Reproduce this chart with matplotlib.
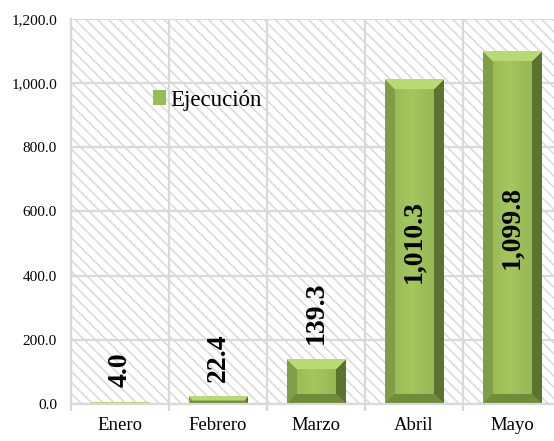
import numpy as np
import matplotlib
matplotlib.use("Agg")
import matplotlib.pyplot as plt
from matplotlib.patches import Rectangle
from matplotlib.ticker import FuncFormatter, MultipleLocator, FixedLocator

# --- data ---
months = ["Enero", "Febrero", "Marzo", "Abril", "Mayo"]
ejecucion = [4.0, 22.4, 139.3, 1010.3, 1099.8]
series_name = "Ejecución"

plt.rcParams["font.family"] = ["Liberation Serif", "DejaVu Serif"]
plt.rcParams["hatch.linewidth"] = 1.1
plt.rcParams["hatch.color"] = "#dedede"

W, H, DPI = 554, 441, 100
fig = plt.figure(figsize=(W / DPI, H / DPI), dpi=DPI)
ax = fig.add_axes([71 / W, 37 / H, 490 / W, 385 / H])

grid_c = "#d9d9d9"
x = np.arange(len(months))
ax.set_xlim(-0.5, len(months) - 0.5)
ax.set_ylim(0, 1200)

# hatched background
ax.add_patch(Rectangle((0, 0), 1, 1, transform=ax.transAxes, facecolor="white",
                       hatch="\\\\\\", edgecolor=grid_c, linewidth=0, zorder=0))
ax.set_axisbelow(True)

ax.yaxis.set_major_locator(MultipleLocator(200))
ax.yaxis.set_major_formatter(FuncFormatter(lambda v, p: f"{v:,.1f}"))
ax.xaxis.set_major_locator(FixedLocator(x))
ax.set_xticks(np.append(x - 0.5, x[-1] + 0.5), minor=True)
ax.set_xticklabels(months)

ax.grid(axis="y", color=grid_c, linewidth=1.6, zorder=1)
ax.grid(axis="x", which="minor", color=grid_c, linewidth=1.6, zorder=1)
for s in ["top", "right"]:
    ax.spines[s].set_visible(False)
for s in ["left", "bottom"]:
    ax.spines[s].set_color(grid_c)
    ax.spines[s].set_linewidth(1.6)

ax.tick_params(axis="x", which="major", length=0, labelsize=13.5, pad=9)
ax.tick_params(axis="x", which="minor", length=5, color=grid_c, width=1.6)
ax.tick_params(axis="y", length=0, labelsize=11, pad=10)

bars = ax.bar(x, ejecucion, width=0.6, color="#9bbb59", zorder=2, label=series_name)
fig.canvas.draw()

# bevelled look for each bar
center = np.array([0.64, 0.78, 0.37])
left_c = np.array([0.50, 0.62, 0.28])
right_c = np.array([0.36, 0.45, 0.19])
top_c = np.array([0.72, 0.86, 0.45])
bot_c = np.array([0.44, 0.55, 0.23])
bevel = 10
for b in bars:
    bb = b.get_window_extent()
    w_px = max(int(round(bb.width)), 1)
    h_px = max(int(round(bb.height)), 1)
    jj, ii = np.meshgrid(np.arange(w_px), np.arange(h_px))
    d = np.stack([ii, h_px - 1 - ii, jj, w_px - 1 - jj])
    nearest = d.argmin(axis=0)
    dmin = d.min(axis=0)
    img = np.empty((h_px, w_px, 3))
    img[:] = center
    t = jj / max(w_px - 1, 1)
    shade = 1 - 0.10 * np.abs(t - 0.45) * 2
    img *= shade[..., None]
    for k, c in enumerate([top_c, bot_c, left_c, right_c]):
        m = (nearest == k) & (dmin < bevel)
        img[m] = c
    ax.imshow(img, extent=(b.get_x(), b.get_x() + b.get_width(), 0, b.get_height()),
              aspect="auto", interpolation="bilinear", zorder=2.5, clip_path=b)
ax.set_xlim(-0.5, len(months) - 0.5)
ax.set_ylim(0, 1200)

# data labels
for xi, v in zip(x, ejecucion):
    txt = f"{v:,.1f}"
    if v > 600:
        ax.text(xi, v / 2, txt, rotation=90, ha="center", va="center",
                fontsize=20, fontweight="bold", zorder=4)
    else:
        ax.annotate(txt, (xi, v), xytext=(0, 11), textcoords="offset points",
                    rotation=90, ha="center", va="bottom",
                    fontsize=20, fontweight="bold", zorder=4)

ax.legend(loc="upper left", bbox_to_anchor=(0.148, 0.84), frameon=False,
          fontsize=16.5, handlelength=0.6, handleheight=0.6,
          handletextpad=0.15, borderaxespad=0)

fig.savefig("out.png", dpi=DPI)
